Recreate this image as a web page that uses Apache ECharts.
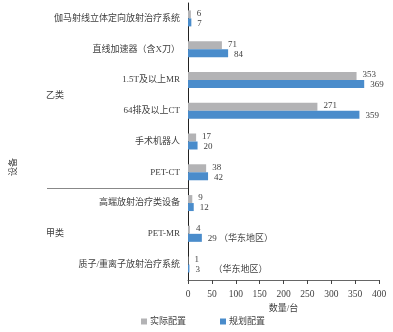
<!DOCTYPE html>
<html><head><meta charset="utf-8">
<script src="https://cdn.jsdelivr.net/npm/echarts@6/dist/echarts.min.js"></script>
<style>html,body{margin:0;padding:0;background:#fff}#c{width:393px;height:332px}</style>
</head><body><div id="c"></div>
<script>
var categories = ['伽马射线立体定向放射治疗系统','直线加速器（含X刀）','1.5T及以上MR','64排及以上CT','手术机器人','PET-CT','高端放射治疗类设备','PET-MR','质子/重离子放射治疗系统'];
var actual = [6, 71, 353, 271, 17, 38, 9, 4, 1];
var planned = [7, 84, 369, 359, 20, 42, 12, 29, 3];
var plannedNotes = ['', '', '', '', '', '', '', ' （华东地区）', '      （华东地区）'];
var xTicks = [0, 50, 100, 150, 200, 250, 300, 350, 400];

var FONT = "'Liberation Serif', 'Noto Sans CJK SC', serif";
var TXT = '#404040';
var chart = echarts.init(document.getElementById('c'), null, {renderer: 'canvas'});
chart.setOption({
  animation: false,
  textStyle: {fontFamily: FONT},
  grid: {left: 188, right: 14, top: 3, bottom: 52, containLabel: false},
  xAxis: {
    type: 'value', min: xTicks[0], max: xTicks[xTicks.length - 1], interval: 50,
    name: '数量/台', nameLocation: 'middle', nameGap: 20,
    nameTextStyle: {fontFamily: FONT, fontSize: 9, color: TXT},
    axisLine: {show: true, lineStyle: {color: '#666', width: 1}},
    axisTick: {show: true, length: 4, inside: false, lineStyle: {color: '#444'}},
    axisLabel: {fontFamily: FONT, fontSize: 9.5, color: TXT, margin: 10},
    splitLine: {show: false}
  },
  yAxis: {
    type: 'category', data: categories, inverse: true,
    axisLine: {show: true, lineStyle: {color: '#222', width: 1}},
    axisTick: {show: false},
    axisLabel: {fontFamily: FONT, fontSize: 9, color: TXT, margin: 8}
  },
  legend: {
    left: 136, top: 312, itemWidth: 6, itemHeight: 6, itemGap: 34,
    icon: 'rect',
    textStyle: {fontFamily: FONT, fontSize: 9, color: TXT, padding: [0,0,0,-2]},
    data: ['实际配置', '规划配置']
  },
  series: [
    {name: '实际配置', type: 'bar', data: actual, barWidth: 8, barGap: '0%',
     itemStyle: {color: '#b3b3b5'},
     label: {show: true, position: 'right', distance: 6, offset: [0, -1], fontFamily: FONT, fontSize: 9, color: TXT}},
    {name: '规划配置', type: 'bar', data: planned, barWidth: 8, barGap: '0%',
     itemStyle: {color: '#4a8ccb'},
     label: {show: true, position: 'right', distance: 6, offset: [0, 1], fontFamily: FONT, fontSize: 9, color: TXT,
       formatter: function (p) { return p.value + plannedNotes[p.dataIndex]; }}}
  ],
  graphic: [
    {type: 'text', left: 46, top: 91, style: {text: '乙类', font: "9px " + FONT, fill: TXT}},
    {type: 'text', left: 46, top: 229, style: {text: '甲类', font: "9px " + FONT, fill: TXT}},
    {type: 'text', x: 14, y: 167, rotation: Math.PI / 2, style: {text: '设备', font: "9px " + FONT, fill: TXT, align: 'center', verticalAlign: 'middle'}},
    {type: 'line', shape: {x1: 47, y1: 188.5, x2: 188, y2: 188.5}, style: {stroke: '#888', lineWidth: 1}}
  ]
});
</script></body></html>
